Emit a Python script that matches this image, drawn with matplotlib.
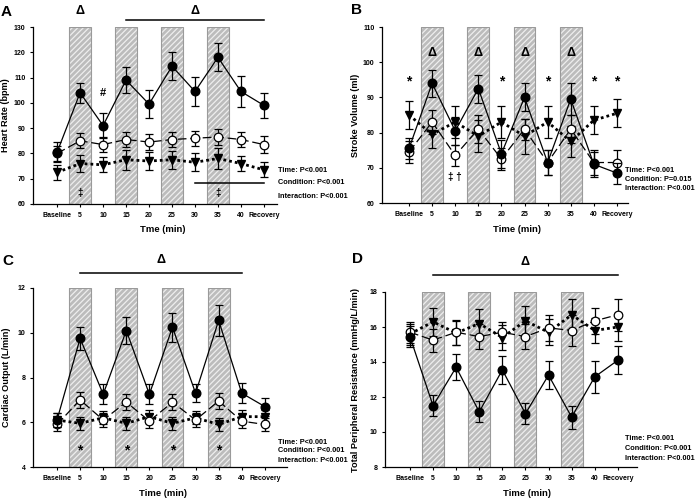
import numpy as np
import matplotlib
matplotlib.use("Agg")
import matplotlib.pyplot as plt

plt.rcParams['font.family'] = ['Liberation Sans', 'DejaVu Sans']
plt.rcParams['font.weight'] = 'bold'
plt.rcParams['hatch.linewidth'] = 0.9

# categories on the x axis
times = ['Baseline', '5', '10', '15', '20', '25', '30', '35', '40', 'Recovery']
stim_idx = [1, 3, 5, 7]  # shaded periods

# A - heart rate (bpm)
hr_filled = [80.5, 104, 91, 109, 99.5, 114.5, 104.5, 118, 104.5, 99]
hr_filled_err = [4, 4, 5, 5, 5.5, 5.5, 5.8, 5.5, 6, 5]
hr_open = [80, 85, 83.5, 85.5, 84.5, 85.5, 86, 86.5, 85.5, 83.5]
hr_open_err = [3, 3, 3, 3, 3, 3, 3, 3, 3, 3.5]
hr_tri = [72.5, 76, 75.5, 77.5, 77, 77.5, 76.5, 78, 76, 73.5]
hr_tri_err = [3, 3.5, 3, 4, 3.5, 3.5, 3.5, 4, 3, 3]

# B - stroke volume (ml)
sv_filled = [75.5, 94, 80.5, 92.5, 74, 90, 71.5, 89.5, 71, 68.5]
sv_filled_err = [3, 3.8, 4, 4, 4, 4, 3.5, 4.5, 3.5, 3]
sv_open = [74.5, 83, 73.5, 81, 72.5, 81, 71.5, 81, 71.5, 71.5]
sv_open_err = [3, 3.5, 3, 4, 3, 3, 3.5, 4, 3.5, 3.5]
sv_tri = [85, 79.5, 83, 79, 83, 79, 83, 77.5, 83.5, 85.5]
sv_tri_err = [4, 4, 4.5, 4.5, 4.5, 5, 4.5, 4.5, 4, 4]

# C - cardiac output (L/min)
co_filled = [6.1, 9.75, 7.25, 10.1, 7.25, 10.25, 7.3, 10.55, 7.3, 6.7]
co_filled_err = [0.3, 0.5, 0.45, 0.6, 0.45, 0.65, 0.4, 0.7, 0.45, 0.4]
co_open = [5.9, 7.0, 6.1, 6.9, 6.05, 6.9, 6.1, 6.95, 6.05, 5.9]
co_open_err = [0.3, 0.35, 0.3, 0.35, 0.3, 0.35, 0.3, 0.35, 0.3, 0.3]
co_tri = [6.1, 5.95, 6.2, 5.95, 6.25, 5.95, 6.2, 5.9, 6.25, 6.25]
co_tri_err = [0.3, 0.3, 0.3, 0.3, 0.3, 0.3, 0.3, 0.3, 0.3, 0.3]

# D - total peripheral resistance (mmHg/L/min)
tpr_filled = [15.45, 11.5, 13.7, 11.15, 13.55, 11.05, 13.25, 10.85, 13.15, 14.1]
tpr_filled_err = [0.6, 0.6, 0.75, 0.6, 0.8, 0.6, 0.8, 0.65, 0.9, 0.8]
tpr_open = [15.7, 15.25, 15.7, 15.45, 15.7, 15.45, 15.95, 15.8, 16.35, 16.7]
tpr_open_err = [0.6, 0.65, 0.7, 0.7, 0.6, 0.7, 0.75, 0.9, 0.75, 0.9]
tpr_tri = [15.6, 16.3, 15.65, 16.2, 15.4, 16.35, 15.7, 16.7, 15.8, 16.0]
tpr_tri_err = [0.6, 0.8, 0.7, 0.85, 0.7, 0.85, 0.75, 0.9, 0.7, 0.8]

W, H = 699, 499
fig = plt.figure(figsize=(W / 100, H / 100), dpi=100)


def make_axes(box):
    left, top, right, bottom = box
    return fig.add_axes([left / W, 1 - bottom / H, (right - left) / W, (bottom - top) / H])


def draw_panel(box, filled, filled_err, opn, opn_err, tri, tri_err, ylim, yticks,
               xlim, ylabel, xlabel, ylab_px, xlab_px):
    ax = make_axes(box)
    left, top, right, bottom = box
    x = np.arange(len(times))
    for i in stim_idx:
        # hatched fill, then a plain grey outline
        ax.axvspan(i - 0.475, i + 0.475, facecolor='#bcbcbc', edgecolor='#eeeeee',
                   hatch='//////', linewidth=0, zorder=0)
        ax.axvspan(i - 0.475, i + 0.475, facecolor='none', edgecolor='#9a9a9a',
                   linewidth=0.8, zorder=0.5)
    ax.errorbar(x, tri, yerr=tri_err, color='black', lw=2.0, ls=(0, (1, 1.1)),
                marker='v', ms=6.2, mfc='black', mec='black', ecolor='black',
                elinewidth=0.9, capsize=2.8, capthick=0.9, zorder=3)
    ax.errorbar(x, opn, yerr=opn_err, color='black', lw=0.9, ls=(0, (7, 3)),
                marker='o', ms=6.2, mfc='white', mec='black', mew=0.9, ecolor='black',
                elinewidth=0.9, capsize=2.8, capthick=0.9, zorder=4)
    ax.errorbar(x, filled, yerr=filled_err, color='black', lw=0.9, ls='-',
                marker='o', ms=6.2, mfc='black', mec='black', ecolor='black',
                elinewidth=0.9, capsize=2.8, capthick=0.9, zorder=5)
    ax.set_xlim(*xlim)
    ax.set_ylim(*ylim)
    ax.set_yticks(yticks)
    ax.set_xticks(x)
    ax.set_xticklabels(times)
    for s in ['top', 'right']:
        ax.spines[s].set_visible(False)
    for s in ['left', 'bottom']:
        ax.spines[s].set_linewidth(0.9)
    ax.tick_params(direction='out', length=2.5, width=0.8, labelsize=5, pad=3)
    for lab in ax.get_xticklabels() + ax.get_yticklabels():
        lab.set_fontweight('bold')
    ax.set_ylabel(ylabel, fontsize=6.6, fontweight='bold', ha='center', va='center')
    ax.set_xlabel(xlabel, fontsize=6.8, fontweight='bold', ha='center', va='center')
    ax.yaxis.set_label_coords((ylab_px - left) / (right - left), 0.5)
    ax.xaxis.set_label_coords((xlab_px[0] - left) / (right - left),
                              (bottom - xlab_px[1]) / (bottom - top))
    return ax


def stats(lines, x_px, y_px):
    for t, y in zip(lines, y_px):
        fig.text(x_px / W, 1 - y / H, t, fontsize=5.3, fontweight='bold',
                 ha='left', va='center')


def letter(t, x_px, y_px):
    fig.text(x_px / W, 1 - y_px / H, t, fontsize=11, fontweight='bold',
             ha='left', va='center')


sym = dict(ha='center', va='center', fontweight='bold', clip_on=False)

# Panel A
axA = draw_panel((33, 27, 277, 204), hr_filled, hr_filled_err, hr_open, hr_open_err,
                 hr_tri, hr_tri_err, (60, 130), range(60, 131, 10), (-1.05, 9.57),
                 'Heart Rate (bpm)', 'Tme (min)', 6, (163, 229))
axA.plot([3, 9], [132.8, 132.8], color='black', lw=1.1, clip_on=False)
axA.text(6, 136.2, 'Δ', fontsize=9, **sym)
axA.text(1, 136.2, 'Δ', fontsize=9, **sym)
axA.text(2, 104, '#', fontsize=8, **sym)
axA.plot([6, 9], [68.3, 68.3], color='black', lw=1.1)
axA.text(1, 64.4, '‡', fontsize=7, **sym)
axA.text(7, 64.4, '‡', fontsize=7, **sym)
stats(['Time: P<0.001', 'Condition: P<0.001', 'Interaction: P<0.001'],
      278, [170, 183, 196])
letter('A', 1, 12)

# Panel B
axB = draw_panel((382, 27, 628, 203), sv_filled, sv_filled_err, sv_open, sv_open_err,
                 sv_tri, sv_tri_err, (60, 110), range(60, 111, 10), (-1.17, 9.48),
                 'Stroke Volume (ml)', 'Time (min)', 356, (517, 229))
for i in stim_idx:
    axB.text(i, 102.6, 'Δ', fontsize=9, **sym)
for i in [0, 4, 6, 8, 9]:
    axB.text(i, 94.6, '*', fontsize=10, **sym)
axB.text(2, 67.4, '‡ †', fontsize=7, **sym)
stats(['Time: P<0.001', 'Condition: P=0.015', 'Interaction: P<0.001'],
      625, [170, 179.5, 189])
letter('B', 351, 10)

# Panel C
axC = draw_panel((33, 288, 287, 467), co_filled, co_filled_err, co_open, co_open_err,
                 co_tri, co_tri_err, (4, 12), range(4, 13, 2), (-1.04, 9.96),
                 'Cardiac Output (L/min)', 'Time (min)', 7, (163, 493))
axC.plot([1, 8], [12.67, 12.67], color='black', lw=1.1, clip_on=False)
axC.text(4.5, 13.27, 'Δ', fontsize=9, **sym)
for i in stim_idx:
    axC.text(i, 4.75, '*', fontsize=10, **sym)
stats(['Time: P<0.001', 'Condition: P<0.001', 'Interaction: P<0.001'],
      278, [442, 451, 460])
letter('C', 2, 261)

# Panel D
axD = draw_panel((385, 292, 637, 467), tpr_filled, tpr_filled_err, tpr_open, tpr_open_err,
                 tpr_tri, tpr_tri_err, (8, 18), range(8, 19, 2), (-1.08, 9.83),
                 'Total Peripheral Resistance (mmHg/L/min)', 'Time (min)', 356, (527, 493))
axD.plot([1, 9], [18.97, 18.97], color='black', lw=1.1, clip_on=False)
axD.text(5, 19.7, 'Δ', fontsize=9, **sym)
stats(['Time: P<0.001', 'Condition: P<0.001', 'Interaction: P<0.001'],
      625, [439, 449, 459])
letter('D', 352, 259)

fig.savefig('out.png', dpi=100)
